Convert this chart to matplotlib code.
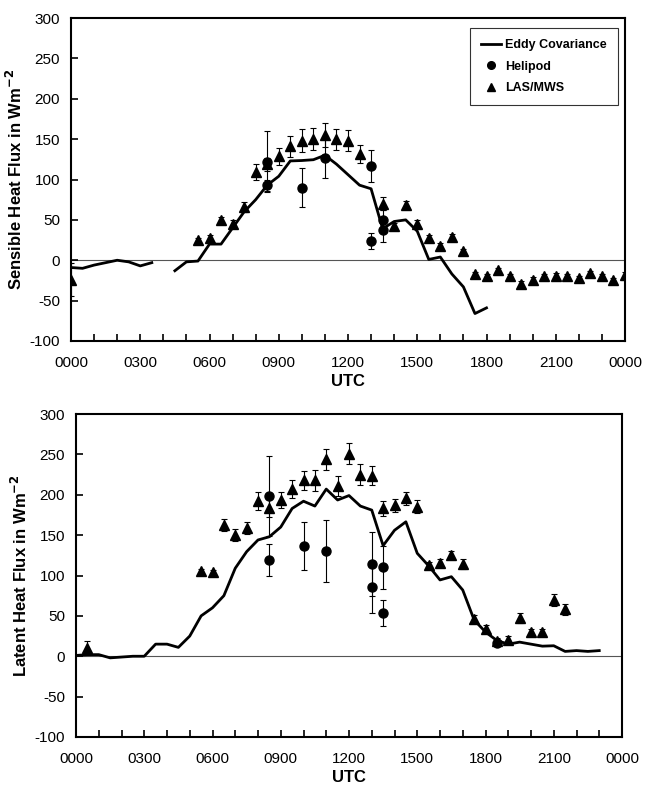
import numpy as np
import matplotlib
matplotlib.use("Agg")
import matplotlib.pyplot as plt
from matplotlib.lines import Line2D

plt.rcParams['font.family'] = ['Liberation Sans', 'DejaVu Sans']
plt.rcParams['axes.unicode_minus'] = False

# ---------------- data ----------------
# Sensible heat flux (top panel)
ec_h_hours = [0, 0.5, 1, 1.5, 2, 2.5, 3, 3.5, 4, 4.5, 5, 5.5, 6, 6.5, 7, 7.5, 8, 8.5,
              9, 9.5, 10, 10.5, 11, 11.5, 12, 12.5, 13, 13.5, 14, 14.5, 15, 15.5,
              16, 16.5, 17, 17.5, 18]
ec_h_vals = [-9, -10, -6, -3, 0, -2, -7, -3, np.nan, -13, -2, -1, 20, 20, 40, 60, 75, 93,
             104, 123, 123.5, 124.5, 130, 119, 106, 93, 88.5, 39, 48, 50, 36, 1,
             4, -17, -33, -66, -59]

las_h_hours = [0, 5.5, 6, 6.5, 7, 7.5, 8, 8.5, 9, 9.5, 10, 10.5, 11, 11.5, 12, 12.5,
               13.5, 14, 14.5, 15, 15.5, 16, 16.5, 17, 17.5, 18, 18.5, 19, 19.5, 20,
               20.5, 21, 21.5, 22, 22.5, 23, 23.5, 24]
las_h_vals = [-24, 25, 28, 50, 45, 66, 109, 119, 128.5, 141, 148, 150, 155, 150, 148, 132,
              70, 43, 68, 45, 28, 18, 29, 11, -17, -20, -12, -20, -29, -24,
              -20, -19, -20, -22, -16, -20, -25, -18]
las_h_err = [20, 3, 3, 4, 5, 6, 10, 8, 11, 13, 14, 14, 15, 13, 13, 11,
             8, 3, 5, 5, 3, 3, 3, 3, 3, 3, 3, 3, 3, 3,
             3, 3, 3, 3, 3, 3, 3, 3]

heli_h_hours = [8.5, 8.5, 10, 11, 13, 13, 13.5, 13.5]
heli_h_vals = [122, 93, 90, 127, 117, 24, 50, 37]
heli_h_err = [38, 7, 24, 25, 20, 10, 12, 15]

# Latent heat flux (bottom panel)
ec_le_hours = [0, 0.5, 1, 1.5, 2, 2.5, 3, 3.5, 4, 4.5, 5, 5.5, 6, 6.5, 7, 7.5, 8, 8.5,
               9, 9.5, 10, 10.5, 11, 11.5, 12, 12.5, 13, 13.5, 14, 14.5, 15, 15.5,
               16, 16.5, 17, 17.5, 18, 18.5, 19, 19.5, 20, 20.5, 21, 21.5, 22, 22.5, 23]
ec_le_vals = [1, 2, 2, -2, -1, 0, 0, 15, 15, 11, 25, 50, 60, 75, 109, 129.5, 144, 148,
              160, 183, 192, 186, 207, 193.5, 199, 186, 181, 137, 156, 166.5, 127.5, 112,
              94.5, 98.5, 82, 45, 30, 19.5, 15, 17.5, 15, 12.5, 13, 6, 7, 6, 7]

las_le_hours = [0.5, 5.5, 6, 6.5, 7, 7.5, 8, 8.5, 9, 9.5, 10, 10.5, 11, 11.5, 12, 12.5,
                13, 13.5, 14, 14.5, 15, 15.5, 16, 16.5, 17, 17.5, 18, 18.5, 19, 19.5,
                20, 20.5, 21, 21.5]
las_le_vals = [10, 105.5, 104, 162.5, 150, 159, 192, 184, 194, 207, 218, 218, 244, 211, 251, 225,
               223.5, 183, 187, 195.5, 185, 113, 116, 125, 114, 46, 34, 19, 20, 47.5,
               30, 30, 69.5, 58]
las_le_err = [9, 3, 3, 7, 7, 7, 11, 12, 10, 11, 12, 13, 13, 12, 13, 13,
              12, 9, 8, 8, 8, 4, 5, 5, 6, 5, 5, 4, 5, 6,
              4, 4, 7, 7]

heli_le_hours = [8.5, 8.5, 10, 11, 13, 13, 13.5, 13.5, 18.5]
heli_le_vals = [198.5, 119, 136.5, 130.5, 114, 86, 110, 54, 17]
heli_le_err = [50, 20, 30, 38, 40, 32, 27, 16, 3]

x_tick_labels = ["0000", "0300", "0600", "0900", "1200", "1500", "1800", "2100", "0000"]
y_ticks = [-100, -50, 0, 50, 100, 150, 200, 250, 300]

# ---------------- figure ----------------
fig = plt.figure(figsize=(6.46, 7.89), dpi=100)
W, H = 646, 789

def make_ax(l, r, t, b):
    return fig.add_axes([l / W, 1 - b / H, (r - l) / W, (b - t) / H])

ax1 = make_ax(71, 625, 18, 341)
ax2 = make_ax(76, 622, 414, 737)


def style(ax, ylabel):
    ax.set_xlim(0, 24)
    ax.set_ylim(-100, 300)
    ax.axhline(0, color='#555555', lw=0.8, zorder=1)
    for s in ['top', 'right', 'left', 'bottom']:
        ax.spines[s].set_linewidth(1.5)
        ax.spines[s].set_color('black')
    ax.set_xticks(np.arange(0, 25, 3))
    ax.set_xticks(np.arange(0, 25, 1), minor=True)
    ax.set_xticklabels(x_tick_labels)
    ax.set_yticks(y_ticks)
    ax.tick_params(axis='x', which='both', direction='in', length=5, width=1.2,
                   top=False, pad=11, labelsize=11)
    ax.tick_params(axis='y', which='both', direction='in', length=5, width=1.2,
                   right=False, pad=8, labelsize=11)
    ax.set_xlabel('UTC', fontsize=12, fontweight='bold', labelpad=3)
    ax.set_ylabel(ylabel, fontsize=12, fontweight='bold', labelpad=3)


def plot_panel(ax, ec_x, ec_y, las_x, las_y, las_e, hel_x, hel_y, hel_e):
    ax.plot(ec_x, ec_y, color='black', lw=2.0, zorder=3)
    ax.errorbar(hel_x, hel_y, yerr=hel_e, fmt='o', color='black', ms=6.5,
                elinewidth=0.8, capsize=2.5, capthick=0.8, zorder=4)
    ax.errorbar(las_x, las_y, yerr=las_e, fmt='^', color='black', ms=6.5,
                elinewidth=0.8, capsize=2.5, capthick=0.8, zorder=4)


plot_panel(ax1, ec_h_hours, ec_h_vals, las_h_hours, las_h_vals, las_h_err,
           heli_h_hours, heli_h_vals, heli_h_err)
plot_panel(ax2, ec_le_hours, ec_le_vals, las_le_hours, las_le_vals, las_le_err,
           heli_le_hours, heli_le_vals, heli_le_err)

style(ax1, 'Sensible Heat Flux in Wm$^{\\mathbf{-2}}$')
style(ax2, 'Latent Heat Flux in Wm$^{\\mathbf{-2}}$')

# legend
handles = [Line2D([], [], color='black', lw=2.0),
           Line2D([], [], color='black', marker='o', ls='none', ms=5.5),
           Line2D([], [], color='black', marker='^', ls='none', ms=5.5)]
leg = ax1.legend(handles, ['Eddy Covariance', 'Helipod', 'LAS/MWS'],
                 loc='upper right', bbox_to_anchor=(0.987, 0.969),
                 frameon=True, fancybox=False, edgecolor='black',
                 prop={'weight': 'bold', 'size': 9}, handlelength=1.6,
                 handletextpad=0.3, labelspacing=0.75, borderpad=0.9,
                 borderaxespad=0)
leg.get_frame().set_linewidth(0.8)

fig.savefig('out.png', dpi=100)
